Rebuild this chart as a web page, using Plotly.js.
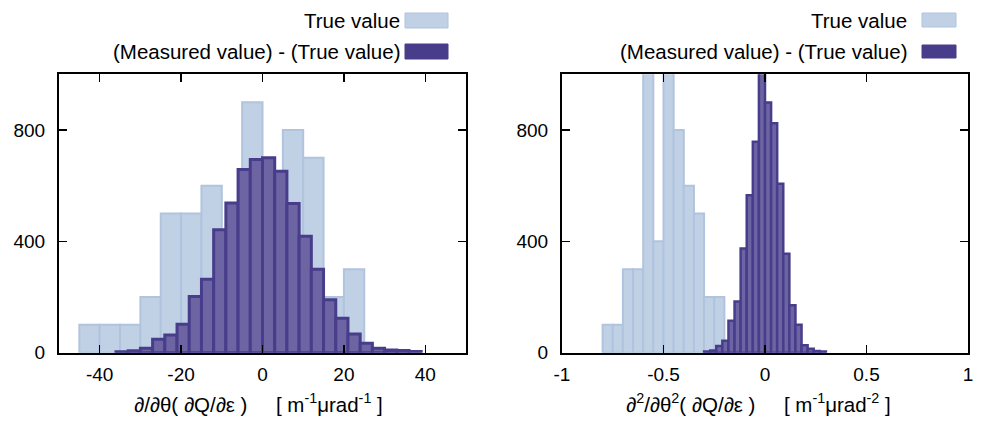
<!DOCTYPE html>
<html>
<head>
<meta charset="utf-8">
<script src="https://cdn.plot.ly/plotly-3.0.1.min.js"></script>
<style>
  html, body { margin: 0; padding: 0; background: #fff; }
  #chart { width: 988px; height: 421px; }
</style>
</head>
<body>
<div id="chart"></div>
<script>
// ---- first derivative histograms (left panel) ----
const dThetaTrueCenters = [-42.5, -37.5, -32.5, -27.5, -22.5, -17.5, -12.5, -7.5, -2.5, 2.5, 7.5, 12.5, 17.5, 22.5];
const dThetaTrueCounts  = [100, 100, 100, 200, 500, 500, 600, 400, 900, 600, 800, 700, 200, 300];

const dThetaDiffCenters = [-34.5, -31.5, -28.5, -25.5, -22.5, -19.5, -16.5, -13.5, -10.5, -7.5, -4.5, -1.5,
                           1.5, 4.5, 7.5, 10.5, 13.5, 16.5, 19.5, 22.5, 25.5, 28.5, 31.5, 34.5, 37.5];
const dThetaDiffCounts  = [3, 7, 16, 48, 64, 102, 202, 264, 442, 538, 658, 694,
                           700, 652, 536, 418, 300, 190, 124, 67, 34, 16, 10, 8, 4];

// ---- second derivative histograms (right panel) ----
const d2ThetaTrueCenters = [-0.775, -0.725, -0.675, -0.625, -0.575, -0.525, -0.475, -0.425, -0.375, -0.325, -0.275, -0.225];
const d2ThetaTrueCounts  = [100, 100, 300, 300, 1300, 400, 1300, 800, 600, 500, 200, 200];

const d2ThetaDiffCenters = [-0.285, -0.255, -0.225, -0.195, -0.165, -0.135, -0.105, -0.075, -0.045, -0.015,
                            0.015, 0.045, 0.075, 0.105, 0.135, 0.165, 0.195, 0.225, 0.255, 0.285];
const d2ThetaDiffCounts  = [4, 8, 24, 43, 115, 184, 374, 566, 758, 1050,
                            899, 824, 607, 355, 170, 100, 27, 14, 6, 4];

// tick labels
const leftXTicks  = [-40, -20, 0, 20, 40];
const rightXTicks = [-1, -0.5, 0, 0.5, 1];
const yTicks      = [0, 400, 800];

const legendTrue = 'True value';
const legendDiff = '(Measured value) - (True value)';
const nb = '\u00a0';
const gap = nb.repeat(5);
const leftTitle  = '∂/∂θ(' + nb + '∂Q/∂ε' + nb + ')' + gap + '[' + nb + 'm<sup>-1</sup>μrad<sup>-1</sup>' + nb + ']';
const rightTitle = '∂<sup>2</sup>/∂θ<sup>2</sup>(' + nb + '∂Q/∂ε' + nb + ')' + gap + '[' + nb + 'm<sup>-1</sup>μrad<sup>-2</sup>' + nb + ']';

// ---- styling ----
const W = 988, H = 421;
const px = x => x / W;
const py = y => 1 - y / H;
const FONT = 'Liberation Sans, Arial, Helvetica, sans-serif';
const TICK_FS = 19;
const TEXT_FS = 20.5;

const trueFill = '#c0d0e5', trueLine = '#b0c4de';
const diffFill = '#6c64a3', diffLine = '#483d8b';

function bars(xs, ys, width, fill, line, lw, xa, ya) {
  return {
    type: 'bar', x: xs, y: ys, width: width,
    xaxis: xa, yaxis: ya,
    marker: { color: fill, line: { color: line, width: lw } },
    showlegend: false, hoverinfo: 'x+y'
  };
}

const data = [
  bars(dThetaTrueCenters, dThetaTrueCounts, 5, trueFill, trueLine, 2, 'x', 'y'),
  bars(dThetaDiffCenters, dThetaDiffCounts, 3, diffFill, diffLine, 3, 'x', 'y'),
  bars(d2ThetaTrueCenters, d2ThetaTrueCounts, 0.05, trueFill, trueLine, 2, 'x2', 'y2'),
  bars(d2ThetaDiffCenters, d2ThetaDiffCounts, 0.03, diffFill, diffLine, 2.5, 'x2', 'y2')
];

const yDomain = [py(352.7), py(74.3)];
function axisBase() {
  return {
    showline: true, linecolor: '#000', linewidth: 2, mirror: 'ticks',
    ticks: 'inside', ticklen: 8, tickwidth: 1.5, tickcolor: '#000',
    showgrid: false, zeroline: false,
    tickfont: { family: FONT, size: TICK_FS, color: '#000' },
    fixedrange: true
  };
}

function label(text, x, y, anchor) {
  return { text: text, x: px(x), y: py(y), xref: 'paper', yref: 'paper',
           xanchor: anchor, yanchor: 'middle', showarrow: false,
           font: { family: FONT, size: TEXT_FS, color: '#000' } };
}

function swatch(x0, x1, y0, y1, fill, line) {
  return { type: 'rect', xref: 'paper', yref: 'paper',
           x0: px(x0), x1: px(x1), y0: py(y1), y1: py(y0),
           fillcolor: fill, line: { color: line, width: 1 } };
}

const layout = {
  width: W, height: H,
  margin: { l: 0, r: 0, t: 0, b: 0 },
  paper_bgcolor: '#fff', plot_bgcolor: '#fff',
  barmode: 'overlay',
  font: { family: FONT, size: TICK_FS, color: '#000' },
  xaxis: Object.assign(axisBase(), {
    domain: [px(59), px(466)], range: [-50, 50],
    tickmode: 'array', tickvals: leftXTicks, ticktext: leftXTicks.map(String),
    anchor: 'y', ticklabelstandoff: 3
  }),
  yaxis: Object.assign(axisBase(), {
    domain: yDomain, range: [0, 1000],
    tickmode: 'array', tickvals: yTicks, ticktext: yTicks.map(String),
    anchor: 'x', ticklabelstandoff: 8
  }),
  xaxis2: Object.assign(axisBase(), {
    domain: [px(562), px(968)], range: [-1, 1],
    tickmode: 'array', tickvals: rightXTicks, ticktext: rightXTicks.map(String),
    anchor: 'y2', ticklabelstandoff: 3
  }),
  yaxis2: Object.assign(axisBase(), {
    domain: yDomain, range: [0, 1000],
    tickmode: 'array', tickvals: yTicks, ticktext: yTicks.map(String),
    anchor: 'x2', ticklabelstandoff: 8
  }),
  annotations: [
    label(legendTrue, 402, 20.5, 'right'),
    label(legendDiff, 402, 51.5, 'right'),
    label(legendTrue, 909, 20.5, 'right'),
    label(legendDiff, 909, 51.5, 'right'),
    label(leftTitle, 258, 403, 'center'),
    label(rightTitle, 758, 403, 'center')
  ],
  shapes: [
    swatch(405, 448, 13, 28, trueFill, trueLine),
    swatch(405, 448, 44, 59, diffLine, diffLine),
    swatch(922, 956, 13, 27, trueFill, trueLine),
    swatch(922, 956, 45, 58, diffLine, diffLine)
  ]
};

Plotly.newPlot('chart', data, layout, { displayModeBar: false, staticPlot: true });
</script>
</body>
</html>
